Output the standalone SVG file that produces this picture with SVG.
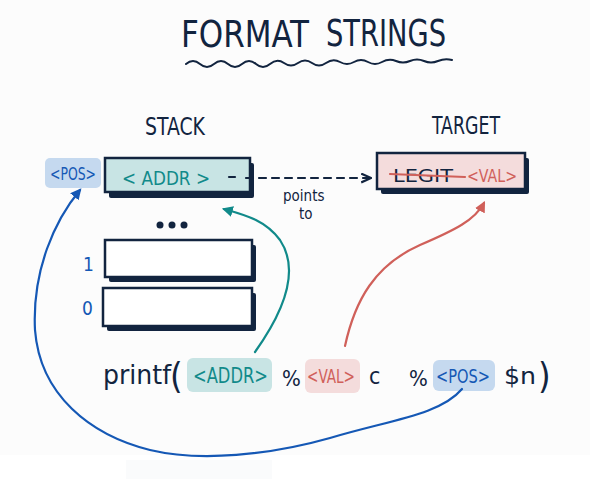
<svg xmlns="http://www.w3.org/2000/svg" width="590" height="479" viewBox="0 0 590 479">
<style>
text{font-family:"DejaVu Sans Condensed","Liberation Sans",sans-serif;}
.dk{fill:#12243f;}
.teal{fill:#118a8a;}
.red{fill:#d0605a;}
.blue{fill:#1558b5;}
.box{stroke:#12243f;stroke-width:2.5;}
.sh{fill:#12243f;}
.ln{fill:none;stroke-width:2.2;stroke-linecap:round;}
</style>
<defs>
<marker id="ahT" viewBox="0 0 10 10" refX="8" refY="5" markerWidth="5" markerHeight="5" orient="auto"><path d="M0 0L10 5L0 10z" fill="#118a8a"/></marker>
<marker id="ahR" viewBox="0 0 10 10" refX="8" refY="5" markerWidth="5" markerHeight="5" orient="auto"><path d="M0 0L10 5L0 10z" fill="#d0605a"/></marker>
<marker id="ahB" viewBox="0 0 10 10" refX="8" refY="5" markerWidth="5" markerHeight="5" orient="auto"><path d="M0 0L10 5L0 10z" fill="#1558b5"/></marker>
<marker id="ahD" viewBox="0 0 10 10" refX="8" refY="5" markerWidth="5" markerHeight="5" orient="auto"><path d="M0 1L9 5L0 9" fill="none" stroke="#12243f" stroke-width="2"/></marker>
</defs>
<rect x="0" y="0" width="590" height="455" fill="#fcfcfc"/>
<rect x="0" y="455" width="590" height="24" fill="#ffffff"/>
<rect x="126" y="460" width="146" height="19" fill="#fafbfc"/>

<g id="title">
<text x="181" y="47" font-size="38" textLength="128" lengthAdjust="spacingAndGlyphs" class="dk">FORMAT</text>
<text x="326" y="46" font-size="38" textLength="120" lengthAdjust="spacingAndGlyphs" class="dk">STRINGS</text>
<path d="M186 64 q7 -6 14 0 t14 0 t14 0 t14 0 t14 0 t14 0 t14 -1 t14 0 t14 0 t14 0 t14 -1 t14 0 t14 0 t14 0 t14 -1 t14 0 t14 0 t14 0 t14 -1" fill="none" stroke="#12243f" stroke-width="2" stroke-linecap="round"/>
</g>

<g id="stack-label"><text x="145" y="135" font-size="25" textLength="60" lengthAdjust="spacingAndGlyphs" class="dk">STACK</text></g>
<g id="target-label"><text x="432" y="134" font-size="25" textLength="68" lengthAdjust="spacingAndGlyphs" class="dk">TARGET</text></g>

<g id="pos-tag">
<rect x="45" y="158" width="56" height="30" rx="5" fill="#c5d9ef"/>
<text x="50" y="180" font-size="17" textLength="46" lengthAdjust="spacingAndGlyphs" class="blue">&lt;POS&gt;</text>
</g>

<g id="addr-box">
<rect x="109" y="163" width="145" height="35" rx="2" class="sh"/>
<rect x="105" y="158" width="145" height="34" fill="#c8e4e4" class="box"/>
<text x="122" y="185" font-size="20" textLength="88" lengthAdjust="spacingAndGlyphs" class="teal">&lt; ADDR &gt;</text>
</g>

<g id="target-box">
<rect x="381" y="158" width="148" height="36" rx="2" class="sh"/>
<rect x="377" y="153" width="148" height="36" fill="#f4dcdc" class="box"/>
<text x="393" y="182" font-size="18" textLength="60" lengthAdjust="spacingAndGlyphs" class="dk">LEGIT</text>
<line x1="390" y1="174" x2="465" y2="177" stroke="#d0605a" stroke-width="2.2" stroke-linecap="round"/>
<text x="467" y="182" font-size="18" textLength="50" lengthAdjust="spacingAndGlyphs" class="red">&lt;VAL&gt;</text>
</g>

<g id="dots">
<circle cx="160" cy="225" r="3.5" class="dk"/>
<circle cx="172" cy="225" r="3.5" class="dk"/>
<circle cx="184" cy="225" r="3.5" class="dk"/>
</g>

<g id="slot-1">
<rect x="109" y="245" width="147" height="37" rx="2" class="sh"/>
<rect x="105" y="240" width="147" height="37" fill="#ffffff" class="box"/>
<text x="83" y="271" font-size="19" class="blue">1</text>
</g>
<g id="slot-0">
<rect x="107" y="293" width="149" height="38" rx="2" class="sh"/>
<rect x="103" y="288" width="149" height="38" fill="#ffffff" class="box"/>
<text x="82" y="315" font-size="19" class="blue">0</text>
</g>

<g id="printf">
<text x="103" y="384" font-size="26" textLength="68" lengthAdjust="spacingAndGlyphs" class="dk">printf</text>
<text x="170" y="388" font-size="36" class="dk">(</text>
<rect x="187" y="358" width="85" height="34" rx="6" fill="#c8e4e4"/>
<text x="193" y="383" font-size="22" textLength="75" lengthAdjust="spacingAndGlyphs" class="teal">&lt;ADDR&gt;</text>
<text x="282" y="386" font-size="22" class="dk">%</text>
<rect x="305" y="359" width="55" height="34" rx="6" fill="#f4dcdc"/>
<text x="307" y="383" font-size="20" textLength="48" lengthAdjust="spacingAndGlyphs" class="red">&lt;VAL&gt;</text>
<text x="369" y="384" font-size="23" class="dk">c</text>
<text x="409" y="386" font-size="22" class="dk">%</text>
<rect x="433" y="360" width="62" height="31" rx="6" fill="#c5d9ef"/>
<text x="436" y="383" font-size="20" textLength="54" lengthAdjust="spacingAndGlyphs" class="blue">&lt;POS&gt;</text>
<text x="504" y="384" font-size="23" textLength="32" lengthAdjust="spacingAndGlyphs" class="dk">$n</text>
<text x="538" y="388" font-size="36" class="dk">)</text>
</g>

<g id="connectors">
<line x1="229" y1="177" x2="235" y2="177" stroke="#12243f" stroke-width="2.2" stroke-linecap="round"/>
<path d="M246 178 L370 178" class="ln" stroke="#12243f" stroke-dasharray="7 6" marker-end="url(#ahD)"/>
<text x="283" y="201" font-size="15" class="dk">points</text>
<text x="299" y="219" font-size="15" class="dk">to</text>
<path d="M255 352 C285 310 300 270 280 240 C265 220 245 215 224 209" class="ln" stroke="#118a8a" marker-end="url(#ahT)"/>
<path d="M345 346 C355 300 375 265 420 245 C455 230 475 220 484 203" class="ln" stroke="#d0605a" marker-end="url(#ahR)"/>
<path d="M462 389 C440 415 390 420 330 438 C270 455 200 462 150 450 C90 435 40 395 35 330 C32 270 55 220 80 190" class="ln" stroke="#1558b5" marker-end="url(#ahB)"/>
</g>
</svg>
